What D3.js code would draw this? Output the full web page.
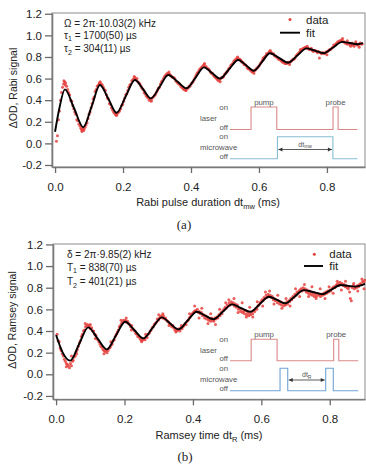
<!DOCTYPE html>
<html>
<head>
<meta charset="utf-8">
<script src="https://cdn.jsdelivr.net/npm/d3@7"></script>
<style>
body { margin: 0; background: #fff; }
text { font-family: "Liberation Sans", Arial, sans-serif; }
</style>
</head>
<body>
<div id="chart"></div>
<script>
// ---- data ----
var xTicks = [0, 0.2, 0.4, 0.6, 0.8];
var yTicks = [-0.2, 0, 0.2, 0.4, 0.6, 0.8, 1.0, 1.2];

// Rabi: measured points [dt_mw (ms), signal]
var rabiData = [
[0.004,0.02],[0.007,0.07],[0.010,0.22],[0.013,0.30],[0.016,0.40],[0.019,0.47],[0.022,0.52],[0.025,0.55],[0.028,0.57],[0.031,0.56],
[0.034,0.53],[0.037,0.50],[0.040,0.47],[0.043,0.45],[0.046,0.40],[0.049,0.39],[0.052,0.35],[0.055,0.32],[0.058,0.29],[0.061,0.27],
[0.064,0.22],[0.067,0.21],[0.070,0.18],[0.073,0.16],[0.076,0.14],[0.078,0.13],[0.080,0.12],[0.082,0.14],[0.085,0.13],[0.088,0.15],
[0.091,0.17],[0.094,0.19],[0.097,0.23],[0.100,0.27],[0.103,0.29],[0.106,0.33],[0.109,0.37],[0.112,0.41],[0.115,0.43],[0.118,0.48],
[0.121,0.50],[0.124,0.53],[0.127,0.54],[0.130,0.56],[0.133,0.57],[0.136,0.55],[0.139,0.54],[0.142,0.52],[0.145,0.50],[0.148,0.49],
[0.151,0.45],[0.154,0.42],[0.157,0.41],[0.160,0.37],[0.163,0.36],[0.166,0.33],[0.169,0.31],[0.172,0.29],[0.175,0.28],[0.178,0.27],
[0.181,0.26],[0.184,0.28],[0.187,0.29],[0.190,0.30],[0.193,0.32],[0.196,0.35],[0.199,0.36],[0.202,0.39],[0.205,0.42],[0.208,0.45],
[0.211,0.46],[0.214,0.49],[0.217,0.52],[0.220,0.54],[0.223,0.55],[0.226,0.58],[0.229,0.59],[0.232,0.60],[0.235,0.61],[0.238,0.59],
[0.241,0.60],[0.244,0.57],[0.247,0.56],[0.250,0.55],[0.253,0.53],[0.256,0.51],[0.259,0.50],[0.262,0.47],[0.265,0.46],[0.268,0.44],
[0.271,0.43],[0.274,0.42],[0.277,0.40],[0.280,0.41],[0.283,0.40],[0.286,0.42],[0.289,0.43],[0.292,0.44],[0.295,0.45],[0.298,0.47],
[0.301,0.49],[0.304,0.51],[0.307,0.52],[0.310,0.55],[0.313,0.57],[0.316,0.58],[0.319,0.60],[0.322,0.62],[0.325,0.63],[0.328,0.64],
[0.331,0.65],[0.334,0.65],[0.337,0.64],[0.340,0.63],[0.343,0.62],[0.346,0.61],[0.349,0.61],[0.352,0.60],[0.355,0.58],[0.358,0.57],
[0.361,0.56],[0.364,0.55],[0.367,0.55],[0.370,0.53],[0.373,0.52],[0.376,0.51],[0.379,0.50],[0.382,0.50],[0.385,0.49],[0.388,0.51],
[0.391,0.51],[0.394,0.53],[0.397,0.53],[0.400,0.55],[0.403,0.56],[0.406,0.57],[0.409,0.59],[0.412,0.61],[0.415,0.63],[0.418,0.65],
[0.421,0.66],[0.424,0.68],[0.427,0.69],[0.430,0.70],[0.433,0.71],[0.436,0.72],[0.439,0.73],[0.442,0.71],[0.445,0.71],[0.448,0.69],
[0.451,0.69],[0.454,0.68],[0.457,0.66],[0.460,0.65],[0.463,0.65],[0.466,0.63],[0.469,0.62],[0.472,0.61],[0.475,0.60],[0.478,0.59],
[0.481,0.58],[0.484,0.59],[0.487,0.60],[0.490,0.61],[0.493,0.61],[0.496,0.62],[0.499,0.64],[0.502,0.65],[0.505,0.66],[0.508,0.67],
[0.511,0.69],[0.514,0.70],[0.517,0.72],[0.520,0.73],[0.523,0.74],[0.526,0.76],[0.529,0.77],[0.532,0.78],[0.535,0.79],[0.538,0.79],
[0.541,0.78],[0.544,0.78],[0.547,0.77],[0.550,0.75],[0.553,0.75],[0.556,0.73],[0.559,0.73],[0.562,0.72],[0.565,0.70],[0.568,0.69],
[0.571,0.69],[0.574,0.68],[0.577,0.67],[0.580,0.66],[0.583,0.67],[0.586,0.67],[0.589,0.68],[0.592,0.69],[0.595,0.70],[0.598,0.71],
[0.601,0.72],[0.604,0.74],[0.607,0.75],[0.610,0.77],[0.613,0.78],[0.616,0.80],[0.619,0.81],[0.622,0.83],[0.625,0.83],[0.628,0.84],
[0.631,0.85],[0.634,0.85],[0.637,0.84],[0.640,0.83],[0.643,0.83],[0.646,0.81],[0.649,0.81],[0.652,0.80],[0.655,0.79],[0.658,0.78],
[0.661,0.78],[0.664,0.77],[0.667,0.76],[0.670,0.75],[0.673,0.75],[0.676,0.74],[0.679,0.74],[0.682,0.74],[0.685,0.75],[0.688,0.75],
[0.691,0.75],[0.694,0.76],[0.697,0.77],[0.700,0.78],[0.703,0.78],[0.706,0.79],[0.709,0.81],[0.712,0.82],[0.715,0.83],[0.718,0.84],
[0.721,0.85],[0.724,0.86],[0.727,0.87],[0.730,0.88],[0.733,0.88],[0.736,0.89],[0.739,0.89],[0.742,0.88],[0.745,0.88],[0.748,0.87],
[0.751,0.87],[0.754,0.88],[0.757,0.86],[0.760,0.85],[0.763,0.86],[0.766,0.86],[0.769,0.85],[0.772,0.84],[0.775,0.85],[0.778,0.79],
[0.781,0.84],[0.784,0.83],[0.787,0.84],[0.790,0.84],[0.793,0.83],[0.796,0.84],[0.799,0.85],[0.802,0.85],[0.805,0.86],[0.808,0.87],
[0.811,0.87],[0.814,0.88],[0.817,0.89],[0.820,0.91],[0.823,0.91],[0.826,0.92],[0.829,0.93],[0.832,0.94],[0.835,0.94],[0.838,0.95],
[0.841,0.95],[0.844,0.96],[0.847,0.94],[0.850,0.94],[0.853,0.93],[0.856,0.93],[0.859,0.92],[0.862,0.92],[0.865,0.93],[0.868,0.91],
[0.871,0.92],[0.874,0.93],[0.877,0.91],[0.880,0.90],[0.883,0.92],[0.886,0.92],[0.889,0.91],[0.892,0.91],[0.895,0.92],[0.898,0.93],
[0.901,0.92],[0.904,0.92],
[0.026,0.58],[0.030,0.54],[0.079,0.11],[0.084,0.12],[0.131,0.56],[0.180,0.26],[0.233,0.62],[0.283,0.39],[0.335,0.66],[0.385,0.49],
[0.440,0.74],[0.486,0.57],[0.537,0.80],[0.585,0.65],[0.633,0.86],[0.690,0.73],[0.742,0.90],[0.800,0.82],[0.846,0.97],[0.860,0.95],
[0.885,0.94],[0.895,0.89],[0.870,0.90],[0.722,0.87],[0.612,0.79]
];

// Rabi fit, read at extrema and mid-crossings
var rabiFit = [
[0,0.108],[0.013,0.33],[0.029,0.50],[0.056,0.325],[0.083,0.15],[0.108,0.345],[0.132,0.54],[0.157,0.412],[0.181,0.284],
[0.208,0.436],[0.235,0.587],[0.259,0.502],[0.282,0.417],[0.308,0.525],[0.333,0.633],[0.360,0.572],[0.387,0.51],[0.413,0.607],
[0.438,0.704],[0.462,0.652],[0.485,0.60],[0.512,0.686],[0.539,0.772],[0.562,0.723],[0.585,0.673],[0.609,0.754],[0.632,0.834],
[0.659,0.791],[0.686,0.747],[0.713,0.814],[0.740,0.88],[0.765,0.858],[0.790,0.835],[0.818,0.888],[0.845,0.94],[0.868,0.929],
[0.890,0.918],[0.906,0.928]
];

// Ramsey: measured points [dt_R (ms), signal]
var ramseyData = [
[0.003,0.37],[0.006,0.31],[0.009,0.30],[0.012,0.24],[0.015,0.22],[0.018,0.19],[0.021,0.17],[0.024,0.14],[0.027,0.12],[0.030,0.10],
[0.033,0.09],[0.036,0.08],[0.039,0.06],[0.042,0.10],[0.045,0.08],[0.048,0.12],[0.050,0.13],[0.053,0.16],[0.056,0.17],[0.059,0.21],
[0.062,0.23],[0.065,0.26],[0.068,0.29],[0.071,0.31],[0.074,0.35],[0.077,0.37],[0.080,0.40],[0.083,0.41],[0.086,0.44],[0.089,0.45],
[0.092,0.46],[0.095,0.44],[0.098,0.45],[0.101,0.42],[0.104,0.43],[0.107,0.40],[0.110,0.40],[0.113,0.37],[0.116,0.36],[0.119,0.33],
[0.122,0.32],[0.125,0.30],[0.128,0.28],[0.131,0.26],[0.134,0.25],[0.137,0.23],[0.140,0.22],[0.143,0.21],[0.146,0.22],[0.149,0.20],
[0.152,0.22],[0.155,0.24],[0.158,0.25],[0.161,0.27],[0.164,0.28],[0.167,0.31],[0.170,0.32],[0.173,0.35],[0.176,0.37],[0.179,0.39],
[0.182,0.41],[0.185,0.44],[0.188,0.45],[0.191,0.47],[0.194,0.48],[0.197,0.50],[0.200,0.49],[0.203,0.50],[0.206,0.48],[0.209,0.49],
[0.212,0.47],[0.215,0.46],[0.218,0.44],[0.221,0.45],[0.224,0.42],[0.227,0.41],[0.230,0.40],[0.233,0.38],[0.236,0.37],[0.239,0.35],
[0.242,0.35],[0.245,0.33],[0.248,0.32],[0.251,0.31],[0.254,0.32],[0.257,0.33],[0.260,0.32],[0.263,0.35],[0.266,0.34],[0.269,0.37],
[0.272,0.38],[0.275,0.40],[0.278,0.41],[0.281,0.43],[0.284,0.44],[0.287,0.46],[0.290,0.47],[0.293,0.48],[0.296,0.51],[0.299,0.50],
[0.302,0.52],[0.305,0.53],[0.308,0.54],[0.311,0.52],[0.314,0.54],[0.317,0.51],[0.320,0.52],[0.323,0.50],[0.326,0.49],[0.329,0.48],
[0.332,0.47],[0.335,0.46],[0.338,0.44],[0.341,0.45],[0.344,0.43],[0.347,0.41],[0.350,0.42],[0.353,0.40],[0.356,0.41],[0.359,0.42],
[0.362,0.40],[0.365,0.43],[0.368,0.42],[0.371,0.44],[0.374,0.45],[0.377,0.47],[0.380,0.46],[0.383,0.49],[0.386,0.50],[0.389,0.52],
[0.392,0.53],[0.395,0.55],[0.398,0.56],[0.401,0.57],[0.404,0.58],[0.407,0.59],[0.410,0.58],[0.413,0.60],[0.416,0.57],[0.419,0.58],
[0.422,0.56],[0.425,0.57],[0.428,0.54],[0.431,0.55],[0.434,0.52],[0.437,0.54],[0.440,0.51],[0.443,0.53],[0.446,0.50],[0.449,0.51],
[0.452,0.49],[0.455,0.52],[0.458,0.50],[0.461,0.49],[0.464,0.52],[0.467,0.51],[0.470,0.53],[0.473,0.52],[0.476,0.55],[0.479,0.54],
[0.482,0.57],[0.485,0.56],[0.488,0.59],[0.491,0.60],[0.494,0.62],[0.497,0.61],[0.500,0.64],[0.503,0.63],[0.506,0.66],[0.509,0.64],
[0.512,0.67],[0.515,0.65],[0.518,0.66],[0.521,0.63],[0.524,0.65],[0.527,0.62],[0.530,0.64],[0.533,0.60],[0.536,0.61],[0.539,0.58],
[0.542,0.60],[0.545,0.57],[0.548,0.58],[0.551,0.56],[0.554,0.59],[0.557,0.55],[0.560,0.57],[0.563,0.54],[0.566,0.56],[0.569,0.55],
[0.572,0.58],[0.575,0.56],[0.578,0.59],[0.581,0.58],[0.584,0.61],[0.587,0.60],[0.590,0.63],[0.593,0.64],[0.596,0.66],[0.599,0.67],
[0.602,0.69],[0.605,0.68],[0.608,0.71],[0.611,0.70],[0.614,0.73],[0.617,0.71],[0.620,0.74],[0.623,0.72],[0.626,0.73],[0.629,0.71],
[0.632,0.72],[0.635,0.69],[0.638,0.70],[0.641,0.68],[0.644,0.69],[0.647,0.66],[0.650,0.68],[0.653,0.65],[0.656,0.67],[0.659,0.64],
[0.662,0.66],[0.665,0.63],[0.668,0.65],[0.671,0.64],[0.674,0.67],[0.677,0.65],[0.680,0.68],[0.683,0.67],[0.686,0.70],[0.689,0.69],
[0.692,0.72],[0.695,0.71],[0.698,0.74],[0.701,0.73],[0.704,0.76],[0.707,0.75],[0.710,0.77],[0.713,0.78],[0.716,0.79],[0.719,0.77],
[0.722,0.80],[0.725,0.78],[0.728,0.79],[0.731,0.76],[0.734,0.78],[0.737,0.75],[0.740,0.77],[0.743,0.74],[0.746,0.76],[0.749,0.73],
[0.752,0.75],[0.755,0.72],[0.758,0.74],[0.761,0.72],[0.764,0.75],[0.767,0.73],[0.770,0.74],[0.773,0.72],[0.776,0.74],[0.779,0.73],
[0.782,0.75],[0.785,0.74],[0.788,0.76],[0.791,0.75],[0.794,0.77],[0.797,0.76],[0.800,0.78],[0.803,0.77],[0.806,0.79],[0.809,0.80],
[0.812,0.81],[0.815,0.80],[0.818,0.82],[0.821,0.83],[0.824,0.84],[0.827,0.82],[0.830,0.85],[0.833,0.83],[0.836,0.84],[0.839,0.82],
[0.842,0.83],[0.845,0.81],[0.848,0.82],[0.851,0.80],[0.854,0.79],[0.857,0.81],[0.860,0.70],[0.863,0.68],[0.866,0.80],[0.869,0.82],
[0.872,0.79],[0.875,0.81],[0.878,0.80],[0.881,0.82],[0.884,0.81],[0.887,0.83],[0.890,0.84],[0.893,0.83],[0.896,0.86],[0.899,0.85],
[0.902,0.87],
[0.030,0.07],[0.045,0.17],[0.060,0.19],[0.085,0.47],[0.100,0.46],[0.115,0.33],[0.140,0.19],[0.160,0.30],[0.190,0.50],[0.205,0.52],
[0.220,0.41],[0.250,0.30],[0.262,0.37],[0.300,0.55],[0.312,0.56],[0.330,0.45],[0.350,0.39],[0.366,0.45],[0.390,0.56],
[0.405,0.63],[0.418,0.52],[0.426,0.61],[0.444,0.47],[0.452,0.56],[0.466,0.46],[0.478,0.60],[0.496,0.66],[0.505,0.69],[0.520,0.70],
[0.532,0.57],[0.544,0.66],[0.556,0.53],[0.566,0.62],[0.575,0.53],[0.588,0.67],[0.604,0.63],[0.612,0.76],[0.624,0.77],[0.637,0.65],
[0.648,0.73],[0.660,0.61],[0.672,0.70],[0.684,0.63],[0.700,0.79],[0.712,0.72],[0.726,0.83],[0.738,0.72],[0.748,0.81],[0.760,0.70],
[0.772,0.79],[0.786,0.70],[0.798,0.81],[0.810,0.75],[0.822,0.86],[0.834,0.78],[0.846,0.86],[0.858,0.76],[0.870,0.84],[0.882,0.77],
[0.894,0.88],[0.900,0.79]
];

var ramseyFit = [
[0,0.363],[0.018,0.21],[0.041,0.126],[0.0675,0.28],[0.094,0.434],[0.121,0.332],[0.148,0.23],[0.175,0.358],[0.202,0.486],
[0.2285,0.409],[0.255,0.332],[0.282,0.429],[0.309,0.526],[0.3335,0.47],[0.358,0.415],[0.3845,0.497],[0.411,0.578],[0.4355,0.543],
[0.460,0.508],[0.487,0.577],[0.514,0.646],[0.541,0.612],[0.568,0.578],[0.595,0.648],[0.622,0.717],[0.646,0.687],[0.670,0.656],
[0.697,0.717],[0.724,0.778],[0.751,0.76],[0.778,0.741],[0.805,0.783],[0.832,0.825],[0.853,0.817],[0.874,0.81],[0.903,0.835]
];

// timing-diagram switch edges (fraction of the inset width)
var laserEdges = [0.165, 0.367, 0.808, 0.848];
var rabiMwEdges = [0.372, 0.807];
var ramseyMwEdges = [0.39, 0.45, 0.746, 0.805];

var rabiParams = [["Ω = 2π·10.03(2) kHz"], ["τ", "1", " = 1700(50) µs"], ["τ", "2", " = 304(11) µs"]];
var ramseyParams = [["δ = 2π·9.85(2) kHz"], ["T", "1", " = 838(70) µs"], ["T", "2", " = 401(21) µs"]];

var W = 366, H = 468;
var red = "#e5413d";

var svg = d3.select("#chart")
    .append("svg")
    .attr("width", W)
    .attr("height", H);

svg.append("rect").attr("width", W).attr("height", H).attr("fill", "#fff");

var fmt = function(d) { return d3.format(".1f")(d).replace("−", "-"); };

function edgesToTrace(edges) {
    var pts = [[0, 0]];
    edges.forEach(function(e, i) { pts.push([e, i % 2 === 0 ? 1 : 0]); });
    pts.push([1, 0]);
    return pts;
}

function drawPanel(p) {
    var x = d3.scaleLinear().domain(p.xDomain).range([p.left, p.right]);
    var y = d3.scaleLinear().domain(p.yDomain).range([p.bottom, p.top]);

    // frame
    svg.append("rect")
        .attr("x", p.left).attr("y", p.top)
        .attr("width", p.right - p.left).attr("height", p.bottom - p.top)
        .attr("fill", "none").attr("stroke", "#8c8c8c").attr("stroke-width", 1);

    var ya = svg.append("g")
        .attr("transform", "translate(" + p.left + ",0)")
        .call(d3.axisLeft(y).tickValues(yTicks).tickFormat(fmt).tickSize(7).tickPadding(3).tickSizeOuter(0));
    var xa = svg.append("g")
        .attr("transform", "translate(0," + p.bottom + ")")
        .call(d3.axisBottom(x).tickValues(xTicks).tickFormat(fmt).tickSize(6).tickPadding(10).tickSizeOuter(0));
    [ya, xa].forEach(function(a) {
        a.select(".domain").attr("stroke", "#7a7a7a").attr("stroke-width", 1.6);
        a.selectAll(".tick line").attr("stroke", "#6a6a6a").attr("stroke-width", 1.3);
        a.selectAll(".tick text").attr("fill", "#222").style("font-size", "11.5px")
            .style("font-family", "'Liberation Sans', Arial, sans-serif");
    });

    // axis titles
    svg.append("text")
        .attr("transform", "translate(" + p.yTitle[0] + "," + p.yTitle[1] + ") rotate(-90)")
        .attr("text-anchor", "middle").attr("dy", "0.35em")
        .style("font-size", "10.5px").attr("fill", "#222")
        .text(p.yLabel);

    var xt = svg.append("text")
        .attr("x", p.xTitle[0]).attr("y", p.xTitle[1])
        .attr("text-anchor", "middle")
        .style("font-size", "11px").attr("fill", "#222");
    xt.append("tspan").text(p.xLabel[0]);
    xt.append("tspan").attr("dy", 3).style("font-size", "7.5px").text(p.xLabel[1]);
    xt.append("tspan").attr("dy", -3).text(p.xLabel[2]);

    svg.append("text")
        .attr("x", p.caption[0]).attr("y", p.caption[1])
        .attr("text-anchor", "middle")
        .style("font-family", "'Liberation Serif', 'Times New Roman', serif")
        .style("font-size", "13px").attr("fill", "#222")
        .text(p.captionText);

    // timing diagram inset
    var ix = d3.scaleLinear().domain([0, 1]).range([p.inset.x0, p.inset.x1]);
    var ly = d3.scaleLinear().domain([0, 1]).range([p.inset.laserLow, p.inset.laserHigh]);
    var my = d3.scaleLinear().domain([0, 1]).range([p.inset.mwLow, p.inset.mwHigh]);
    var step = function(sy) {
        return d3.line().x(function(d) { return ix(d[0]); }).y(function(d) { return sy(d[1]); }).curve(d3.curveStepAfter);
    };
    svg.append("path").attr("d", step(ly)(edgesToTrace(laserEdges)))
        .attr("fill", "none").attr("stroke", "#d98a88").attr("stroke-width", 1.1);
    svg.append("path").attr("d", step(my)(edgesToTrace(p.mwEdges)))
        .attr("fill", "none").attr("stroke", p.mwColor).attr("stroke-width", 1.1);

    var lab = function(tx, ty, s, anchor, size) {
        return svg.append("text").attr("x", tx).attr("y", ty).attr("dy", "0.35em")
            .attr("text-anchor", anchor).style("font-size", (size || 7.8) + "px").attr("fill", "#555").text(s);
    };
    var lx = p.inset.x0 - 2;
    lab(lx, p.inset.laserHigh, "on", "end");
    lab(p.inset.labelLeft, (p.inset.laserHigh + p.inset.laserLow) / 2, "laser", "start");
    lab(lx, p.inset.laserLow - 2, "off", "end");
    lab(lx, p.inset.mwHigh, "on", "end");
    lab(p.inset.labelLeft, (p.inset.mwHigh + p.inset.mwLow) / 2, "microwave", "start");
    lab(lx, p.inset.mwLow - 2, "off", "end");
    svg.append("text").attr("x", ix((laserEdges[0] + laserEdges[1]) / 2)).attr("y", p.inset.laserHigh - 2)
        .attr("text-anchor", "middle").style("font-size", "7.8px").attr("fill", "#555").text("pump");
    svg.append("text").attr("x", ix((laserEdges[2] + laserEdges[3]) / 2)).attr("y", p.inset.laserHigh - 2)
        .attr("text-anchor", "middle").style("font-size", "7.8px").attr("fill", "#555").text("probe");

    // dt arrow
    var a0 = ix(p.arrow[0]) + 1, a1 = ix(p.arrow[1]) - 1, ay = p.inset.arrowY;
    svg.append("line").attr("x1", a0).attr("x2", a1).attr("y1", ay).attr("y2", ay)
        .attr("stroke", "#333").attr("stroke-width", 0.8);
    svg.append("path").attr("d", "M" + a0 + "," + ay + "l4,-2v4z M" + a1 + "," + ay + "l-4,-2v4z").attr("fill", "#333");
    var dl = svg.append("text").attr("x", (a0 + a1) / 2).attr("y", ay - 3)
        .attr("text-anchor", "middle").style("font-size", "7px").attr("fill", "#555");
    dl.append("tspan").text("dt");
    dl.append("tspan").attr("dy", 1.5).style("font-size", "5px").text(p.dtSub);

    // data and fit
    svg.append("g").selectAll("circle")
        .data(p.data)
        .join("circle")
        .attr("cx", function(d) { return x(d[0]); })
        .attr("cy", function(d) { return y(d[1]); })
        .attr("r", 1.5)
        .attr("fill", red)
        .attr("fill-opacity", 0.85);

    svg.append("path")
        .datum(p.fit)
        .attr("d", d3.line().x(function(d) { return x(d[0]); }).y(function(d) { return y(d[1]); }).curve(d3.curveMonotoneX))
        .attr("fill", "none").attr("stroke", "#000").attr("stroke-width", 1.9);

    // parameters
    p.params.forEach(function(line, i) {
        var t = svg.append("text").attr("x", p.paramX).attr("y", p.paramY[i])
            .style("font-size", "10px").attr("fill", "#222");
        t.append("tspan").text(line[0]);
        if (line.length > 1) {
            t.append("tspan").attr("dy", 2.5).style("font-size", "7px").text(line[1]);
            t.append("tspan").attr("dy", -2.5).text(line[2]);
        }
    });

    // legend
    svg.append("circle").attr("cx", p.legend.dotX).attr("cy", p.legend.dataY - 4).attr("r", 1.5).attr("fill", red);
    svg.append("text").attr("x", p.legend.textX).attr("y", p.legend.dataY)
        .style("font-size", "11.5px").attr("fill", "#222").text("data");
    svg.append("line").attr("x1", p.legend.lineX0).attr("x2", p.legend.lineX1)
        .attr("y1", p.legend.fitY - 4).attr("y2", p.legend.fitY - 4)
        .attr("stroke", "#000").attr("stroke-width", 1.9);
    svg.append("text").attr("x", p.legend.textX).attr("y", p.legend.fitY)
        .style("font-size", "11.5px").attr("fill", "#222").text("fit");
}

drawPanel({
    left: 52, right: 365, top: 13, bottom: 167,
    xDomain: [-0.009, 0.912], yDomain: [-0.2185, 1.207],
    data: rabiData, fit: rabiFit,
    yLabel: "ΔOD, Rabi signal", yTitle: [13, 88],
    xLabel: ["Rabi pulse duration dt", "mw", " (ms)"], xTitle: [208, 206],
    caption: [184, 229], captionText: "(a)",
    params: rabiParams, paramX: 64, paramY: [26.5, 38.5, 52],
    legend: { dotX: 290, textX: 306, dataY: 23.5, fitY: 36.7, lineX0: 280, lineX1: 300 },
    inset: { x0: 230, x1: 357.5, labelLeft: 200, laserHigh: 107, laserLow: 129.5, mwHigh: 136.7, mwLow: 158.7, arrowY: 149.5 },
    mwEdges: rabiMwEdges, mwColor: "#86bfd3", arrow: [rabiMwEdges[0], rabiMwEdges[1]], dtSub: "mw"
});

drawPanel({
    left: 53, right: 365, top: 244, bottom: 399.3,
    xDomain: [-0.009, 0.903], yDomain: [-0.231, 1.204],
    data: ramseyData, fit: ramseyFit,
    yLabel: "ΔOD, Ramsey signal", yTitle: [12, 320],
    xLabel: ["Ramsey time dt", "R", " (ms)"], xTitle: [209, 438.5],
    caption: [185, 461], captionText: "(b)",
    params: ramseyParams, paramX: 67, paramY: [258.3, 270.7, 285],
    legend: { dotX: 314.3, textX: 329.3, dataY: 258.3, fitY: 270, lineX0: 304, lineX1: 323 },
    inset: { x0: 230, x1: 358.3, labelLeft: 200, laserHigh: 339.3, laserLow: 360.7, mwHigh: 368.3, mwLow: 390.7, arrowY: 380 },
    mwEdges: ramseyMwEdges, mwColor: "#6fa3d6", arrow: [ramseyMwEdges[1], ramseyMwEdges[2]], dtSub: "R"
});
</script>
</body>
</html>
